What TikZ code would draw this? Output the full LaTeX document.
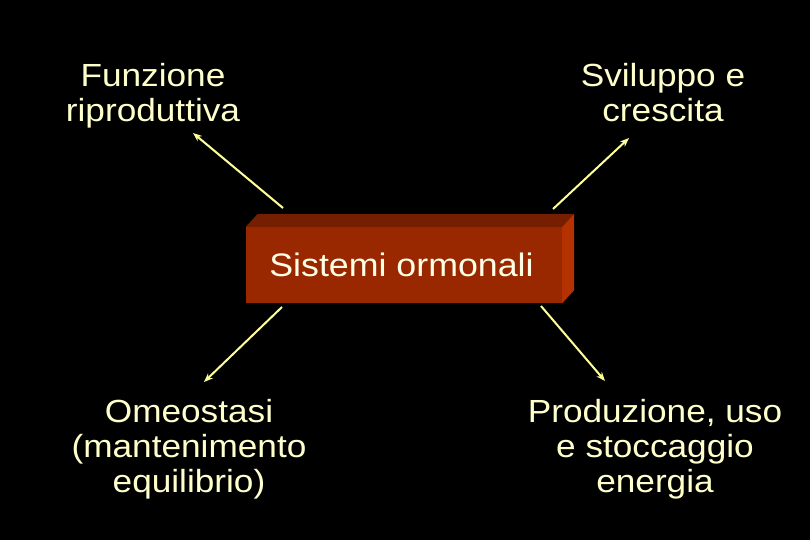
\documentclass[tikz,border=0pt]{standalone}
\usepackage{fontspec}
\setmainfont{Liberation Sans}[FakeStretch=1.1]
\usepackage{xcolor}
\usetikzlibrary{arrows.meta}
\definecolor{topictext}{RGB}{255,255,204}
\definecolor{arrowyellow}{RGB}{255,255,153}
\definecolor{boxfront}{RGB}{153,40,0}
\definecolor{boxtop}{RGB}{118,30,0}
\definecolor{boxside}{RGB}{180,50,0}

\begin{document}
\begin{tikzpicture}[x=1pt, y=-1pt]
    % Define styles
    \tikzstyle{topic} = [text=topictext, align=center, inner sep=0pt, font=\fontsize{32}{35}\selectfont, execute at begin node=\strut, execute at end node=\strut]
    \tikzstyle{hub} = [rectangle, fill=boxfront, minimum width=316pt, minimum height=76pt, inner sep=0pt, text=white!90!yellow, font=\fontsize{32.5}{35}\selectfont]
    \tikzstyle{arrow} = [-{Stealth[length=9pt, width=7pt]}, draw=arrowyellow, line width=2pt]

    % Background
    \fill[black] (0,0) rectangle (810,540);

    % Central box
    \node[hub] (ormoni) at (404,265) {\hspace*{-5pt}Sistemi ormonali};
    \fill[boxtop] (ormoni.north west) -- ++(12,-13) -- ([shift={(12,-13)}]ormoni.north east) -- (ormoni.north east) -- cycle;
    \fill[boxside] (ormoni.north east) -- ++(12,-13) -- ([shift={(12,-13)}]ormoni.south east) -- (ormoni.south east) -- cycle;

    % Topics
    \node[topic] (riproduzione) at (153,98) {Funzione\\riproduttiva};
    \node[topic] (sviluppo) at (663,98) {Sviluppo e\\crescita};
    \node[topic] (omeostasi) at (189,451) {Omeostasi\\(mantenimento\\equilibrio)};
    \node[topic] (energia) at (655,451) {Produzione, uso\\e stoccaggio\\energia};

    % Arrow ends
    \coordinate (a1s) at (283,208);
    \coordinate (a1e) at (193,133);
    \coordinate (a2s) at (553,209);
    \coordinate (a2e) at (629,138);
    \coordinate (a3s) at (282,307);
    \coordinate (a3e) at (204,382);
    \coordinate (a4s) at (541,306);
    \coordinate (a4e) at (605,381);

    % Arrows
    \draw[arrow] (a1s) -- (a1e);
    \draw[arrow] (a2s) -- (a2e);
    \draw[arrow] (a3s) -- (a3e);
    \draw[arrow] (a4s) -- (a4e);

\end{tikzpicture}
\end{document}
